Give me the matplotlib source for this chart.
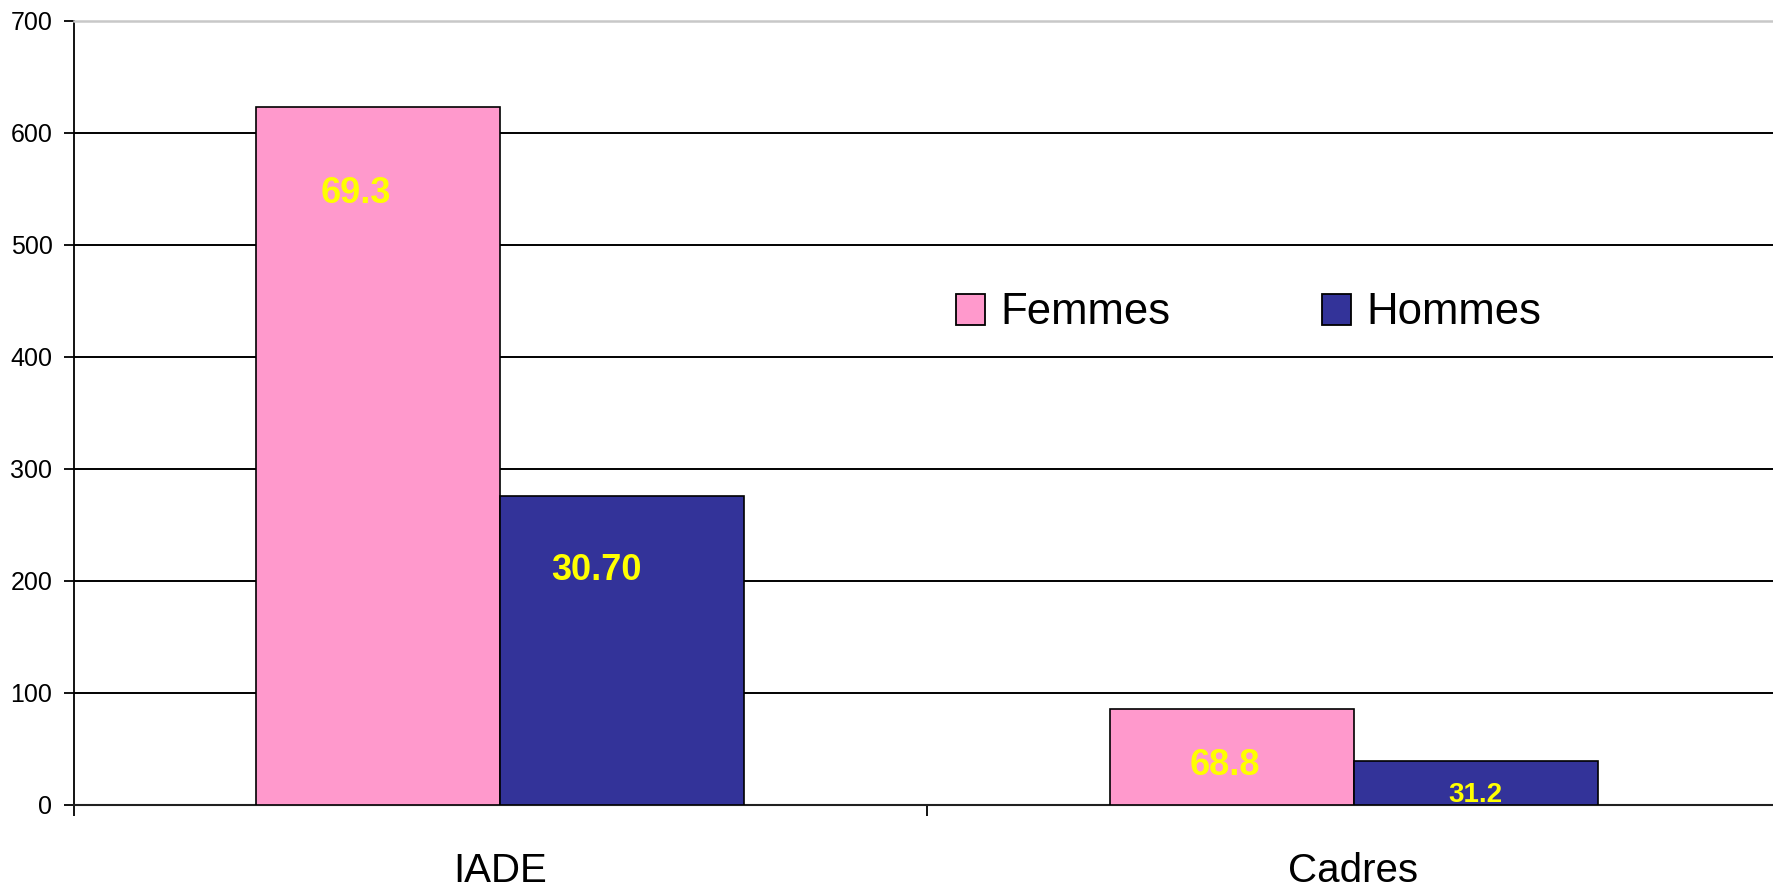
import numpy as np
import matplotlib
matplotlib.use('Agg')
import matplotlib.pyplot as plt

# data
categories = ['IADE', 'Cadres']
femmes = [623, 86]
hommes = [276, 39]
femmes_labels = ['69.3', '68.8']
hommes_labels = ['30.70', '31.2']
y_ticks = [0, 100, 200, 300, 400, 500, 600, 700]

pink = '#FF99CC'
navy = '#333399'
yellow = '#FFFF00'

plt.rcParams['font.family'] = ['Liberation Sans', 'DejaVu Sans']

fig = plt.figure(figsize=(17.73, 8.88), dpi=100)
ax = fig.add_axes([0.0417, 0.0935, 0.9623, 0.8834])

x = np.arange(len(categories))
bar_width = 0.286
bars_f = ax.bar(x - bar_width / 2, femmes, bar_width, color=pink, edgecolor='black', linewidth=1.2,
                label='Femmes', zorder=3)
bars_h = ax.bar(x + bar_width / 2, hommes, bar_width, color=navy, edgecolor='black', linewidth=1.2,
                label='Hommes', zorder=3)

# hand placed value labels (offsets in points from bar top)
f_offsets = [(-16.6, -69.5), (-4.7, -48)]
h_offsets = [(-18.7, -61), (0, -29)]
f_sizes = [26, 26]
h_sizes = [26, 20]
for bar, lab, off, fs in zip(bars_f, femmes_labels, f_offsets, f_sizes):
    ax.annotate(lab, xy=(bar.get_x() + bar.get_width() / 2, bar.get_height()), xytext=off,
                textcoords='offset points', ha='center', va='baseline', color=yellow,
                fontsize=fs, fontweight='bold', zorder=5)
for bar, lab, off, fs in zip(bars_h, hommes_labels, h_offsets, h_sizes):
    ax.annotate(lab, xy=(bar.get_x() + bar.get_width() / 2, bar.get_height()), xytext=off,
                textcoords='offset points', ha='center', va='baseline', color=yellow,
                fontsize=fs, fontweight='bold', zorder=5)

ax.set_xlim(-0.5, len(categories) - 0.5)
ax.set_ylim(0, 700)

# y axis
ax.set_yticks(y_ticks)
ax.tick_params(axis='y', direction='out', length=7, width=1.3, pad=8.5, labelsize=18)
for v in y_ticks[1:-1]:
    ax.axhline(v, color='black', linewidth=1.4, zorder=1)

# x axis: ticks on category borders, labels in the middle
ax.set_xticks(np.arange(len(categories) + 1) - 0.5)
ax.set_xticklabels([])
ax.tick_params(axis='x', which='major', direction='out', length=8, width=1.3)
ax.set_xticks(x, minor=True)
ax.set_xticklabels(categories, minor=True)
ax.tick_params(axis='x', which='minor', length=0, pad=34, labelsize=29)

ax.spines['left'].set_linewidth(1.3)
ax.spines['bottom'].set_linewidth(1.5)
ax.spines['bottom'].set_color('#202020')
ax.spines['top'].set_color('#C8C8C8')
ax.spines['top'].set_linewidth(1.8)
ax.spines['right'].set_visible(False)

leg = ax.legend(loc='center', bbox_to_anchor=(1248.5 / 1773, 1 - 313 / 888), bbox_transform=fig.transFigure,
                ncol=2, frameon=False, fontsize=31.5, handlelength=0.67, handleheight=0.72,
                handletextpad=0.35, columnspacing=3.45, borderpad=0)
for h in leg.legend_handles:
    h.set_linewidth(1.3)

fig.savefig('out.png', dpi=100)
